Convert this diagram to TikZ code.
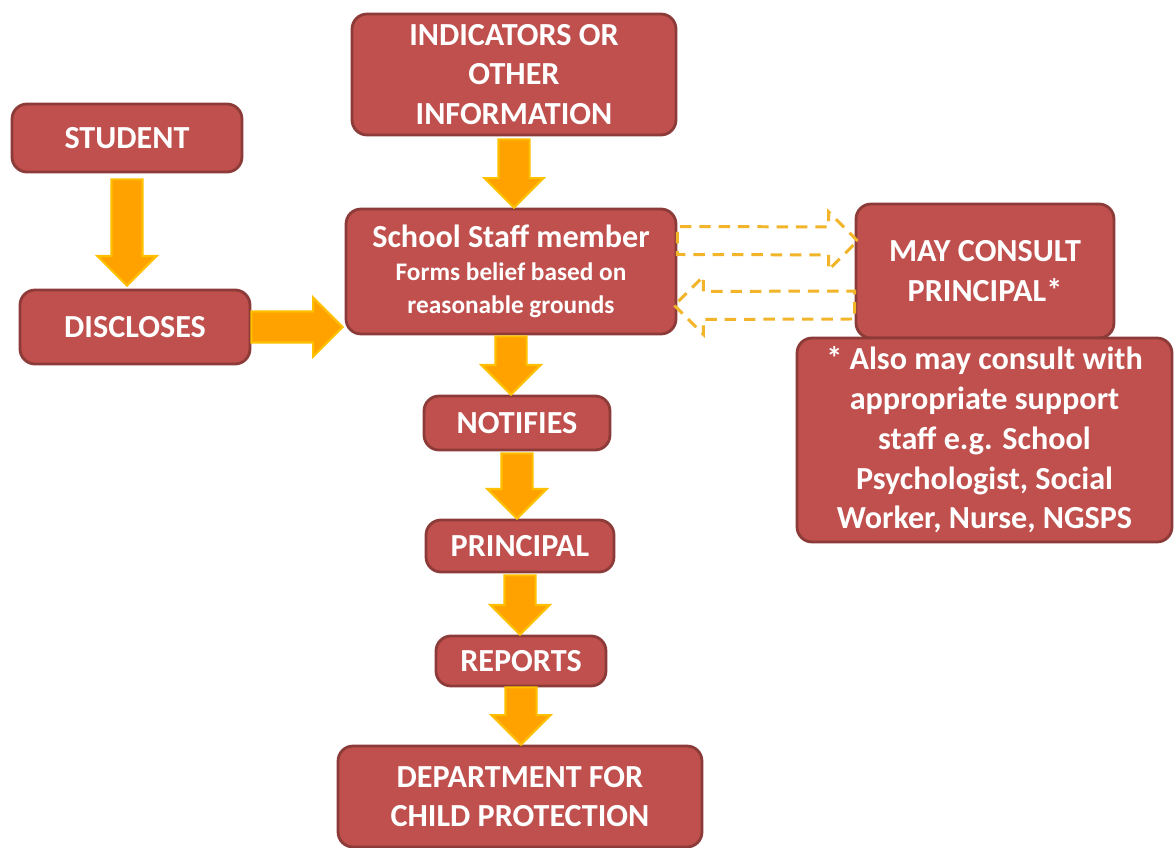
\documentclass[tikz,border=0pt]{standalone}
\usepackage{fontspec}
\setmainfont{Carlito}
\usetikzlibrary{shapes.arrows, positioning, calc}
\definecolor{cbox}{HTML}{C0504D}
\definecolor{cedge}{HTML}{8C3B39}
\definecolor{corange}{HTML}{FFA200}
\definecolor{cgold}{HTML}{FFC000}
\definecolor{cdash}{HTML}{F2B52A}
\tikzset{
  every picture/.style={font=\bfseries},
  box/.style={draw=cedge, fill=cbox, line width=1.6pt, rounded corners=0.3cm, align=center, text=white, inner sep=2pt, font=\fontsize{18.3}{22.6}\selectfont\bfseries},
  fat/.style={single arrow, fill=corange, draw=cgold, line width=1.2pt, inner xsep=0pt, inner ysep=0.29cm, single arrow head extend=0.28cm, outer sep=0pt},
  hollow/.style={single arrow, draw=cdash, dash pattern=on 6.5pt off 4.5pt, line width=1.7pt, inner xsep=0pt, inner ysep=0.25cm, single arrow head extend=0.3cm, outer sep=0pt},
}
% block arrow from #2 to #3
\newcommand\fatarrow[3][fat]{%
  \path let \p1=($(#3)-(#2)$), \n1={veclen(\x1,\y1)}, \n2={atan2(\y1,\x1)} in
    node[#1, minimum height=\n1, rotate=\n2, anchor=tail] at (#2) {};}

\begin{document}
\begin{tikzpicture}[x=0.02cm, y=-0.02cm]
  \fill[white] (0,0) rectangle (1174,848);
  \useasboundingbox (0,0) rectangle (1174,848);
  % boxes
  \node[box, minimum width=6.48cm, minimum height=2.42cm] (ind) at (514,74.5) {INDICATORS OR\\OTHER\\INFORMATION};
  \node[box, minimum width=4.6cm, minimum height=1.36cm] (student) at (127,138) {STUDENT};
  \node[box, minimum width=6.6cm, minimum height=2.5cm, font=\fontsize{14.4}{18.7}\selectfont\bfseries] (staff) at (511,271.5) {{\fontsize{18.3}{18.7}\selectfont School Staff member}\\Forms belief based on\\reasonable grounds};
  \node[box, minimum width=5.16cm, minimum height=2.68cm] (consult) at (985,271) {MAY CONSULT\\PRINCIPAL*};
  \node[box, minimum width=7.5cm, minimum height=4.08cm] (note) at (984.5,440) {* Also may consult with\\appropriate support\\staff e.g. School\\Psychologist, Social\\Worker, Nurse, NGSPS};
  \node[box, minimum width=4.6cm, minimum height=1.48cm] (disc) at (135,327) {DISCLOSES};
  \node[box, minimum width=3.72cm, minimum height=1.08cm] (notif) at (517,423) {NOTIFIES};
  \node[box, minimum width=3.76cm, minimum height=1.04cm] (princ) at (520,546) {PRINCIPAL};
  \node[box, minimum width=3.4cm, minimum height=1cm] (rep) at (521,661) {REPORTS};
  \node[box, minimum width=7.28cm, minimum height=2.02cm] (dept) at (520,796.5) {DEPARTMENT FOR\\CHILD PROTECTION};
  % solid block arrows
  \fatarrow{$(student.south)+(0,6)$}{$(student.south |- disc.north)+(0,-3)$}
  \fatarrow{$(ind.south)+(0,3)$}{ind.south |- staff.north}
  \fatarrow{disc.east}{$(disc.east -| staff.west)+(-2,0)$}
  \fatarrow{$(staff.south)+(0,1)$}{staff.south |- notif.north}
  \fatarrow{$(notif.south)+(0,2)$}{notif.south |- princ.north}
  \fatarrow{$(princ.south)+(0,2)$}{princ.south |- rep.north}
  \fatarrow{$(rep.south)+(0,0)$}{rep.south |- dept.north}
  % dashed outline arrows
  \fatarrow[hollow]{$(staff.east)+(0,-31)$}{$(consult.west)+(3,-30)$}
  \fatarrow[hollow]{$(consult.west)+(0,34)$}{$(staff.east)+(-3,34)$}
\end{tikzpicture}
\end{document}
